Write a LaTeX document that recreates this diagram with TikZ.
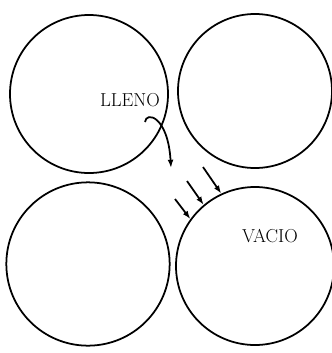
\documentclass[tikz,border=0pt]{standalone}
\usepackage{tikz}
\usetikzlibrary{arrows.meta,positioning}

\begin{document}
\begin{tikzpicture}[x=0.03cm, y=-0.03cm, line width=1.5pt,
  ball/.style={draw, circle, inner sep=0pt, minimum size=4.74cm},
  lbl/.style={font=\fontsize{16}{19}\selectfont},
  flow/.style={-{Latex[length=7pt,width=5pt]}}]
  \useasboundingbox (0,0) rectangle (332,353);
  \node[ball] (full) at (89,94) {};
  \node[ball, minimum size=4.62cm] (tr) at (255,91) {};
  \node[ball, minimum size=4.9cm] (bl) at (88,264) {};
  \node[ball] (vac) at (255,266) {};
  \node[lbl] (lleno) at (130,100) {LLENO};
  \node[lbl] (vacio) at (270,236) {VACIO};
  % escape from the full sphere
  \coordinate (c0) at (145,122);
  \coordinate (c1) at (171,168);
  \draw[flow] (c0) .. controls (146,111) and (168,116) .. (c1);
  % entering the empty one
  \coordinate (a1) at (203,167);
  \coordinate (a2) at (187,181);
  \coordinate (a3) at (175,199);
  \draw[flow] (a1) -- (vac.115);
  \draw[flow] (a2) -- (vac.130);
  \draw[flow] (a3) -- (vac.144);
\end{tikzpicture}
\end{document}
